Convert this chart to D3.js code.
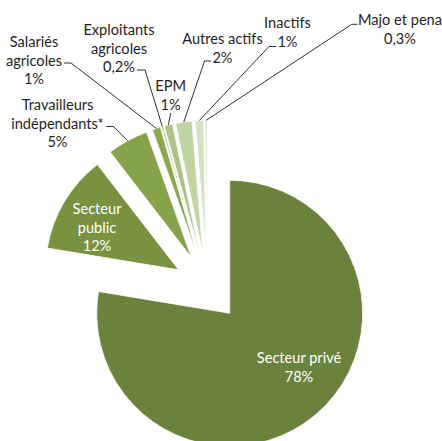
<!DOCTYPE html>
<html>
<head>
<meta charset="utf-8">
<script src="https://cdn.jsdelivr.net/npm/d3@7"></script>
<style>
  html, body { margin: 0; padding: 0; background: #fff; }
  svg { display: block; }
  text { font-family: Lato, "Liberation Sans", sans-serif; font-size: 14.6px; }
</style>
</head>
<body>
<svg id="chart" width="442" height="441"></svg>
<script>
// Répartition par catégorie (en %), dans l'ordre des secteurs du camembert
const categories = [
  "Secteur privé",
  "Secteur public",
  "Travailleurs indépendants*",
  "Salariés agricoles",
  "Exploitants agricoles",
  "EPM",
  "Autres actifs",
  "Inactifs",
  "Majo et pena"
];
const values = [78, 12, 5, 1, 0.2, 1, 2, 1, 0.3];

// Lignes des étiquettes
const labelLines = [
  ["Secteur privé"],
  ["Secteur", "public"],
  ["Travailleurs", "indépendants*"],
  ["Salariés", "agricoles"],
  ["Exploitants", "agricoles"],
  ["EPM"],
  ["Autres actifs"],
  ["Inactifs"],
  ["Majo et pena"]
];

const colors = ["#6b823d", "#78923f", "#86a34b", "#8ba950", "#a0bb6e",
                "#acc385", "#c1d5a2", "#d4e2c1", "#dfe9d2"];

// Géométrie du camembert éclaté
const cx = 207.7, cy = 287.3, radius = 133, explode = 34;
const lineGap = 18.6;

// Placement des étiquettes : centre du texte, crochet de la ligne de rappel
const labelLayout = [
  { x: 299, y: 358, inside: true },
  { x: 97,  y: 209, inside: true },
  { x: 57.5, y: 105, stub: [106, 113.5, 126.5] },
  { x: 34,  y: 42,  stub: [64, 71, 63] },
  { x: 119, y: 30,  stub: [137, 145, 70] },
  { x: 170.7, y: 86, bend: [170.7, 113] },
  { x: 222.5, y: 39, stub: [211, 204.5, 61] },
  { x: 287.5, y: 23, stub: [276, 269, 46.5] },
  { x: 400, y: 20,  stub: [357.5, 351.7, 24.3] }
];

const fmt = v => String(v).replace(".", ",") + "%";

const svg = d3.select("#chart");
svg.append("rect").attr("width", 442).attr("height", 441).attr("fill", "#fff");

const data = categories.map((c, i) => ({ name: c, value: values[i], i }));

const pie = d3.pie().sort(null).value(d => d.value)
  .startAngle(0).endAngle(2 * Math.PI);
const arcs = pie(data);
const arc = d3.arc().innerRadius(0).outerRadius(radius);

const color = d3.scaleOrdinal().domain(categories).range(colors);

const g = svg.append("g").attr("transform", `translate(${cx},${cy})`);

const mid = a => (a.startAngle + a.endAngle) / 2;

g.selectAll("path.slice")
  .data(arcs)
  .join("path")
  .attr("class", "slice")
  .attr("transform", a => {
    const [ox, oy] = d3.pointRadial(mid(a), explode);
    return `translate(${ox},${oy})`;
  })
  .attr("d", arc)
  .attr("fill", a => color(a.data.name))
  .attr("stroke", "#fff")
  .attr("stroke-width", 0.8)
  .attr("stroke-linejoin", "round");

// Lignes de rappel vers le bord extérieur de chaque secteur
arcs.forEach((a, i) => {
  const L = labelLayout[i];
  if (L.inside) return;
  const [ox, oy] = d3.pointRadial(mid(a), explode);
  const [px, py] = d3.pointRadial(mid(a), radius);
  const end = [cx + ox + px, cy + oy + py];
  let pts;
  if (L.stub) {
    pts = [[L.stub[0], L.stub[2]], [L.stub[1], L.stub[2]], end];
  } else {
    pts = [L.bend, end];
  }
  svg.append("path")
    .attr("d", d3.line()(pts))
    .attr("fill", "none")
    .attr("stroke", "#1a1a1a")
    .attr("stroke-width", 0.9);
});

// Étiquettes : catégorie puis valeur
arcs.forEach((a, i) => {
  const L = labelLayout[i];
  const lines = labelLines[i].concat([fmt(a.data.value)]);
  const t = svg.append("text")
    .attr("text-anchor", "middle")
    .attr("fill", L.inside ? "#ffffff" : "#1f1f1f");
  lines.forEach((ln, k) => {
    t.append("tspan")
      .attr("x", L.x)
      .attr("y", L.y + k * lineGap + 5)
      .text(ln);
  });
});
</script>
</body>
</html>
